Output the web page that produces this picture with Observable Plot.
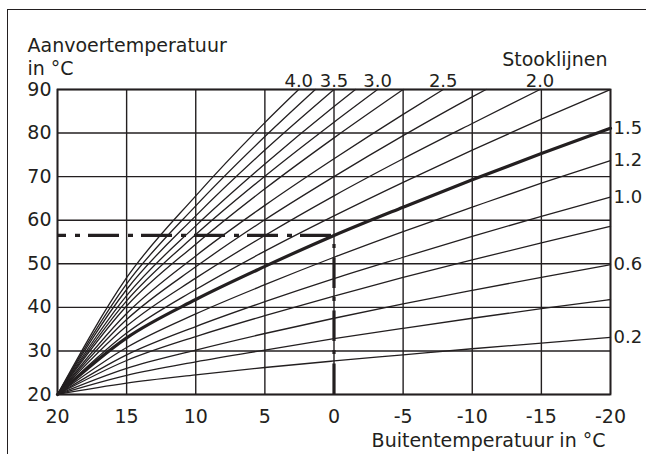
<!DOCTYPE html>
<html><head><meta charset="utf-8">
<script src="https://cdn.jsdelivr.net/npm/d3@7"></script>
<script src="https://cdn.jsdelivr.net/npm/@observablehq/plot@0.6"></script>
<style>
html,body{margin:0;padding:0;background:#fff;}
#wrap{position:relative;width:646px;height:454px;overflow:hidden;}
#box{position:absolute;left:7px;top:9px;width:700px;height:500px;border-top:1.6px solid #231f20;border-left:1.6px solid #231f20;pointer-events:none;}
#chart svg{display:block;}
</style></head><body>
<div id="wrap"><div id="chart"></div><div id="box"></div></div>
<script>
// ---- data ----
const xTicks = [20, 15, 10, 5, 0, -5, -10, -15, -20];
const yTicks = [20, 30, 40, 50, 60, 70, 80, 90];
const outdoorGrid = [20, 15, 10, 5, 0, -5, -10, -15];

const stooklijnen = ["0.2","0.4","0.6","0.8","1.0","1.2","1.5","1.75","2.0","2.25","2.5","2.75","3.0","3.25","3.5","3.75","4.0"];
// flow temperature at the outdoor grid temperatures (until the curve leaves the chart)
const s02  = [20, 22.6, 24.5, 26.2, 27.7, 29.1, 30.5, 31.8];
const s04  = [20, 24.4, 27.5, 30.2, 32.8, 35.2, 37.5, 39.7];
const s06  = [20, 26.0, 30.2, 34.0, 37.5, 40.8, 43.9, 46.9];
const s08  = [20, 27.8, 33.3, 38.1, 42.6, 46.9, 50.9, 54.8];
const s10  = [20, 29.1, 35.6, 41.3, 46.6, 51.5, 56.3, 60.9];
const s12  = [20, 30.8, 38.5, 45.2, 51.5, 57.4, 63.0, 68.5];
const s15  = [20, 33.0, 41.8, 49.4, 56.5, 63.0, 69.3, 75.3];
const s175 = [20, 34.1, 44.1, 52.9, 61.0, 68.7, 76.1, 83.2];
const s20  = [20, 35.7, 46.7, 56.5, 65.6, 74.1, 82.2];
const s225 = [20, 37.2, 49.3, 60.1, 70.0, 79.4, 88.3];
const s25  = [20, 38.6, 51.8, 63.4, 74.1, 84.3];
const s275 = [20, 40.3, 54.5, 67.2, 78.9];
const s30  = [20, 41.5, 56.7, 70.1, 82.5];
const s325 = [20, 42.7, 58.7, 72.9, 86.1];
const s35  = [20, 44.1, 61.0, 76.1];
const s375 = [20, 45.4, 63.3, 79.2];
const s40  = [20, 46.8, 65.6, 82.4];
// where each curve ends (right edge or top edge)
const endOutdoor = [-20, -20, -20, -20, -20, -20, -20, -20, -14.9, -11.0, -7.9, -5.0, -3.15, -1.55, 0, 1.35, 2.55];
const endFlow    = [33.1, 41.8, 49.8, 58.6, 65.3, 73.7, 81.1, 90, 90, 90, 90, 90, 90, 90, 90, 90, 90];

const boldCurve = "1.5";
const rightLabels = ["0.2", "0.6", "1.0", "1.2", "1.5"];
const topLabels = ["2.0", "2.5", "3.0", "3.5", "4.0"];

const designOutdoor = 0;
const designFlow = 56.5;

const yTitle = "Aanvoertemperatuur\nin °C";
const xTitle = "Buitentemperatuur in °C";
const curvesTitle = "Stooklijnen";

// ---- build table ----
const gridValues = [s02, s04, s06, s08, s10, s12, s15, s175, s20, s225, s25, s275, s30, s325, s35, s375, s40];
const rows = [];
stooklijnen.forEach((name, i) => {
  const pts = gridValues[i].map((v, j) => ({curve: name, outdoor: outdoorGrid[j], flow: v}));
  pts.push({curve: name, outdoor: endOutdoor[i], flow: endFlow[i]});
  pts.sort((a, b) => a.outdoor - b.outdoor);
  rows.push(...pts);
});
const ends = stooklijnen.map((name, i) => ({curve: name, outdoor: endOutdoor[i], flow: endFlow[i]}));

const ink = "#231f20";
const plot = Plot.plot({
  width: 646, height: 454,
  marginLeft: 57, marginRight: 36, marginTop: 89, marginBottom: 60,
  style: {fontFamily: "DejaVu Sans", fontSize: "19px", color: ink, background: "white"},
  x: {domain: [20, -20], label: null},
  y: {domain: [20, 90], label: null},
  marks: [
    Plot.gridX(xTicks, {stroke: ink, strokeOpacity: 1, strokeWidth: 1.4}),
    Plot.gridY(yTicks, {stroke: ink, strokeOpacity: 1, strokeWidth: 1.4}),
    Plot.line(rows.filter(d => d.curve !== boldCurve), {x: "outdoor", y: "flow", z: "curve", curve: "monotone-x", stroke: ink, strokeWidth: 1.3}),
    Plot.line(rows.filter(d => d.curve === boldCurve), {x: "outdoor", y: "flow", curve: "monotone-x", stroke: ink, strokeWidth: 3.2}),
    Plot.ruleY([designFlow], {x1: 20, x2: designOutdoor, stroke: ink, strokeWidth: 3.2, strokeDasharray: "31,9,5,8", strokeDashoffset: 22}),
    Plot.ruleX([designOutdoor], {y1: 20, y2: designFlow, stroke: ink, strokeWidth: 3.2, strokeDasharray: "30.5,9.5,4,9"}),
    Plot.frame({stroke: ink, strokeWidth: 1.8}),
    Plot.axisX(xTicks, {tickSize: 0, tickPadding: 15, tickFormat: d => String(d), fill: ink, fontSize: 19, label: null}),
    Plot.axisY(yTicks, {tickSize: 0, tickPadding: 6, fill: ink, fontSize: 19, label: null}),
    Plot.text(ends.filter(d => rightLabels.includes(d.curve)), {x: "outdoor", y: "flow", text: "curve", textAnchor: "start", lineAnchor: "middle", dx: 3, fontSize: 18, fill: ink}),
    Plot.text(ends.filter(d => topLabels.includes(d.curve)), {x: "outdoor", y: "flow", text: "curve", textAnchor: "middle", lineAnchor: "bottom", dy: -2.5, fontSize: 18, fill: ink}),
    Plot.text([yTitle], {text: d => d, frameAnchor: "top-left", textAnchor: "start", lineAnchor: "bottom", lineHeight: 1.2, dx: -30, dy: -15, fontSize: 19, fill: ink}),
    Plot.text([curvesTitle], {text: d => d, frameAnchor: "top-right", textAnchor: "end", lineAnchor: "bottom", dx: -3, dy: -24, fontSize: 19, fill: ink}),
    Plot.text([xTitle], {text: d => d, frameAnchor: "bottom-right", textAnchor: "end", lineAnchor: "bottom", dx: -5, dy: 52.7, fontSize: 19, fill: ink})
  ]
});
document.getElementById("chart").appendChild(plot);
</script>
</body></html>
